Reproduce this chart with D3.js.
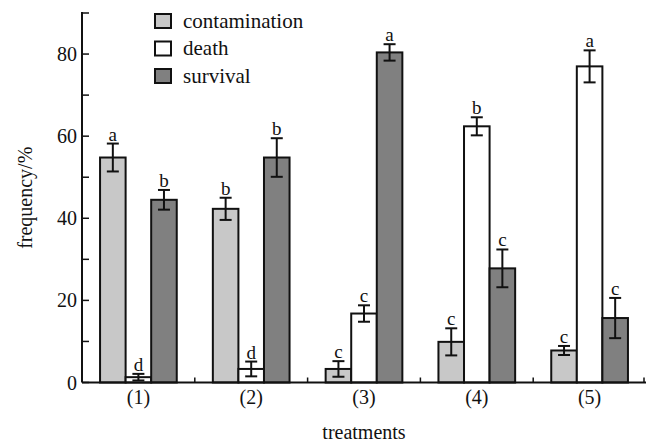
<!DOCTYPE html>
<html>
<head>
<meta charset="utf-8">
<script src="https://cdn.jsdelivr.net/npm/d3@7"></script>
<style>
  body { margin: 0; background: #fff; }
  svg { display: block; }
</style>
</head>
<body>
<div id="chart"></div>
<script>
const width = 648;
const height = 444;

const categories = ["(1)", "(2)", "(3)", "(4)", "(5)"];
const seriesNames = ["contamination", "death", "survival"];
const seriesColors = ["#c8c8c8", "#ffffff", "#808080"];

const contamination = [54.8, 42.3, 3.3, 9.9, 7.8];
const contaminationErr = [3.4, 2.7, 1.9, 3.3, 1.1];
const contaminationSig = ["a", "b", "c", "c", "c"];

const death = [1.3, 3.3, 16.8, 62.4, 77.0];
const deathErr = [0.8, 1.8, 2.0, 2.2, 3.9];
const deathSig = ["d", "d", "c", "b", "a"];

const survival = [44.5, 54.8, 80.4, 27.8, 15.7];
const survivalErr = [2.4, 4.7, 2.0, 4.6, 4.9];
const survivalSig = ["b", "b", "a", "c", "c"];

const yTicks = [0, 20, 40, 60, 80];
const yMinorTicks = [10, 30, 50, 70, 90];

const values = [contamination, death, survival];
const errors = [contaminationErr, deathErr, survivalErr];
const sigs = [contaminationSig, deathSig, survivalSig];

const rows = [];
categories.forEach((c, i) => {
  seriesNames.forEach((s, j) => {
    rows.push({ cat: c, series: s, value: values[j][i], err: errors[j][i], sig: sigs[j][i], color: seriesColors[j] });
  });
});

const plotLeft = 82, plotRight = 646, plotTop = 13, plotBottom = 382.5;
const serif = "'Liberation Serif', 'Times New Roman', serif";

const svg = d3.select("#chart")
  .append("svg")
    .attr("width", width)
    .attr("height", height);

const x0 = d3.scaleBand()
  .domain(categories)
  .range([plotLeft, plotRight])
  .paddingInner(0.32)
  .paddingOuter(0.16);

const x1 = d3.scaleBand()
  .domain(seriesNames)
  .range([0, x0.bandwidth()]);

const y = d3.scaleLinear()
  .domain([0, 90])
  .range([plotBottom, plotTop]);

// bars
svg.selectAll(".bar")
  .data(rows)
  .enter()
  .append("rect")
    .attr("class", "bar")
    .attr("x", d => x0(d.cat) + x1(d.series))
    .attr("y", d => y(d.value))
    .attr("width", x1.bandwidth())
    .attr("height", d => y(0) - y(d.value))
    .attr("fill", d => d.color)
    .attr("stroke", "#111")
    .attr("stroke-width", 2);

// error bars
const capHalf = 6;
const eb = svg.selectAll(".err")
  .data(rows)
  .enter()
  .append("g")
    .attr("class", "err")
    .attr("transform", d => `translate(${x0(d.cat) + x1(d.series) + x1.bandwidth() / 2},0)`)
    .attr("stroke", "#111")
    .attr("stroke-width", 2);

eb.append("line")
  .attr("y1", d => y(Math.max(0, d.value - d.err)))
  .attr("y2", d => y(d.value + d.err));
eb.append("line")
  .attr("x1", -capHalf).attr("x2", capHalf)
  .attr("y1", d => y(d.value + d.err)).attr("y2", d => y(d.value + d.err));
eb.append("line")
  .attr("x1", -capHalf).attr("x2", capHalf)
  .attr("y1", d => y(Math.max(0, d.value - d.err))).attr("y2", d => y(Math.max(0, d.value - d.err)));

// significance letters
svg.selectAll(".sig")
  .data(rows)
  .enter()
  .append("text")
    .attr("class", "sig")
    .attr("x", d => x0(d.cat) + x1(d.series) + x1.bandwidth() / 2)
    .attr("y", d => y(d.value + d.err) - 3)
    .attr("text-anchor", "middle")
    .style("font-family", serif)
    .style("font-size", "19px")
    .attr("fill", "#111")
    .text(d => d.sig);

// y axis
const yAxis = svg.append("g")
  .attr("transform", `translate(${plotLeft},0)`);
yAxis.append("line")
  .attr("y1", y(0)).attr("y2", plotTop - 1)
  .attr("stroke", "#111").attr("stroke-width", 2);
yAxis.selectAll(".ytick")
  .data(yTicks.concat(yMinorTicks))
  .enter()
  .append("line")
    .attr("x1", 0).attr("x2", 7)
    .attr("y1", d => y(d)).attr("y2", d => y(d))
    .attr("stroke", "#111").attr("stroke-width", 1.5);
yAxis.selectAll(".ylab")
  .data(yTicks)
  .enter()
  .append("text")
    .attr("x", -5)
    .attr("y", d => y(d))
    .attr("dy", "0.35em")
    .attr("text-anchor", "end")
    .style("font-family", serif)
    .style("font-size", "20px")
    .attr("fill", "#111")
    .text(d => d);

// x axis
svg.append("line")
  .attr("x1", plotLeft).attr("x2", plotRight)
  .attr("y1", y(0)).attr("y2", y(0))
  .attr("stroke", "#111").attr("stroke-width", 2);
const bounds = categories.slice(1).map(c => x0(c) - x0.step() * x0.paddingInner() / 2).concat([plotRight - 2]);
svg.selectAll(".xtick")
  .data(bounds)
  .enter()
  .append("line")
    .attr("x1", d => d).attr("x2", d => d)
    .attr("y1", y(0)).attr("y2", y(0) - 5)
    .attr("stroke", "#111").attr("stroke-width", 1.5);
svg.selectAll(".xlab")
  .data(categories)
  .enter()
  .append("text")
    .attr("x", d => x0(d) + x0.bandwidth() / 2)
    .attr("y", 404)
    .attr("text-anchor", "middle")
    .style("font-family", serif)
    .style("font-size", "20px")
    .attr("fill", "#111")
    .text(d => d);

// axis titles
svg.append("text")
  .attr("x", (plotLeft + plotRight) / 2)
  .attr("y", 439)
  .attr("text-anchor", "middle")
  .style("font-family", serif)
  .style("font-size", "20px")
  .attr("fill", "#111")
  .text("treatments");

svg.append("text")
  .attr("transform", `translate(32,${(plotTop + plotBottom) / 2}) rotate(-90)`)
  .attr("text-anchor", "middle")
  .style("font-family", serif)
  .style("font-size", "20px")
  .attr("fill", "#111")
  .text("frequency/%");

// legend
const legend = svg.selectAll(".legend")
  .data(seriesNames)
  .enter()
  .append("g")
    .attr("class", "legend")
    .attr("transform", (d, i) => `translate(155,${14 + i * 27.5})`);
legend.append("rect")
  .attr("width", 16).attr("height", 14)
  .attr("fill", (d, i) => seriesColors[i])
  .attr("stroke", "#111").attr("stroke-width", 2);
legend.append("text")
  .attr("x", 28).attr("y", 13.5)
  .style("font-family", serif)
  .style("font-size", "21px")
  .attr("fill", "#111")
  .text(d => d);
</script>
</body>
</html>
